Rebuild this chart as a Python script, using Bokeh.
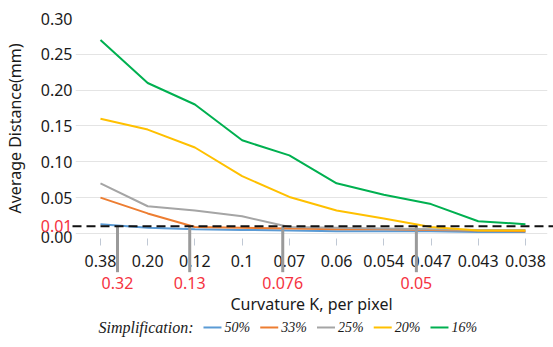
from bokeh.plotting import figure
from bokeh.models import FixedTicker, LinearAxis, Range1d
from bokeh.core.properties import value
from bokeh.embed import file_html
from bokeh.resources import INLINE

# ---- data ----
categories = ["0.38", "0.20", "0.12", "0.1", "0.07", "0.06", "0.054", "0.047", "0.043", "0.038"]
s50 = [0.013, 0.008, 0.006, 0.005, 0.004, 0.003, 0.003, 0.003, 0.002, 0.002]
s33 = [0.050, 0.028, 0.009, 0.008, 0.007, 0.006, 0.006, 0.005, 0.004, 0.003]
s25 = [0.070, 0.038, 0.032, 0.024, 0.009, 0.008, 0.007, 0.006, 0.005, 0.005]
s20 = [0.160, 0.145, 0.120, 0.080, 0.051, 0.032, 0.021, 0.009, 0.004, 0.004]
s16 = [0.270, 0.210, 0.180, 0.130, 0.109, 0.070, 0.054, 0.041, 0.017, 0.013]
series = [s50, s33, s25, s20, s16]
series_names = ["50%", "33%", "25%", "20%", "16%"]
colors = ["#5B9BD5", "#ED7D31", "#A5A5A5", "#FFC000", "#00B050"]
threshold = 0.01
threshold_label = "0.01"
crossing_labels = ["0.32", "0.13", "0.076", "0.05"]
crossing_pos = [0.36, 1.89, 3.86, 6.69]
ytick_values = [0.00, 0.05, 0.10, 0.15, 0.20, 0.25, 0.30]
ytick_labels = ["0.00", "0.05", "0.10", "0.15", "0.20", "0.25", "0.30"]
legend_title = "Simplification:"

RED = "#F5333F"
FONT = "Noto Sans"
TXT = "#1a1a1a"
xs = list(range(len(categories)))

X0, X1 = -0.529, 9.467
Y0, Y1 = -0.007, 0.30
W, H = 553, 347
ML, MR, MT, MB = 75, 6, 18, 109
px_x = (W - ML - MR) / (X1 - X0)      # pixels per x unit
px_y = (H - MT - MB) / (Y1 - Y0)      # pixels per y unit

p = figure(width=W, height=H, x_range=Range1d(X0, X1), y_range=Range1d(Y0, Y1),
           output_backend="svg", toolbar_location=None,
           min_border_left=0, min_border_right=MR, min_border_top=MT, min_border_bottom=MB)
p.outline_line_color = None
p.background_fill_color = "white"
p.border_fill_color = "white"

p.xgrid.visible = False
p.ygrid.ticker = FixedTicker(ticks=ytick_values)
p.ygrid.grid_line_color = "#E4E4E4"
p.ygrid.grid_line_width = 1

# y axis (0.00 label nudged down slightly to leave room for the red 0.01)
yax = p.yaxis[0]
ypos = [v - 0.0055 if v == 0 else v for v in ytick_values]
yax.ticker = FixedTicker(ticks=ypos)
yax.major_label_overrides = {pv: lab for pv, lab in zip(ypos, ytick_labels)}
yax.axis_line_color = None
yax.major_tick_line_color = None
yax.minor_tick_line_color = None
yax.major_tick_out = 0
yax.major_tick_in = 0
yax.major_label_standoff = 3
yax.major_label_text_font = FONT
yax.major_label_text_font_size = "16px"
yax.major_label_text_color = TXT
yax.axis_label = "Average Distance(mm)"
yax.axis_label_text_font = FONT
yax.axis_label_text_font_size = "16px"
yax.axis_label_text_font_style = "normal"
yax.axis_label_text_color = TXT
yax.axis_label_standoff = 12

# category x axis
xax = p.xaxis[0]
xax.ticker = FixedTicker(ticks=xs)
xax.major_label_overrides = {i: c for i, c in zip(xs, categories)}
xax.axis_line_color = None
xax.major_tick_line_color = "#C0C8D4"
xax.minor_tick_line_color = None
xax.major_tick_in = 0
xax.major_tick_out = 7
xax.major_label_standoff = 9
xax.major_label_text_font = FONT
xax.major_label_text_font_size = "16px"
xax.major_label_text_color = TXT

# second x axis with red crossing values + title
xax2 = LinearAxis(ticker=FixedTicker(ticks=crossing_pos),
                  major_label_overrides={pv: lab for pv, lab in zip(crossing_pos, crossing_labels)})
xax2.axis_line_color = None
xax2.major_tick_line_color = None
xax2.minor_tick_line_color = None
xax2.major_tick_in = 0
xax2.major_tick_out = 0
xax2.major_label_standoff = 7
xax2.major_label_text_font = FONT
xax2.major_label_text_font_size = "16px"
xax2.major_label_text_color = RED
xax2.axis_label = "Curvature K, per pixel"
xax2.axis_label_text_font = FONT
xax2.axis_label_text_font_size = "16px"
xax2.axis_label_text_font_style = "normal"
xax2.axis_label_text_color = TXT
xax2.axis_label_standoff = 1
p.add_layout(xax2, "below")

# gray vertical markers at the crossings
p.segment(x0=crossing_pos, y0=[threshold] * len(crossing_pos), x1=crossing_pos,
          y1=[-0.054] * len(crossing_pos), line_color="#9A9A9A", line_width=3, level="overlay")

for s, col in zip(series, colors):
    p.line(xs, s, line_color=col, line_width=2)

# dashed threshold line
p.segment(x0=[X0 - 3 / px_x], y0=[threshold], x1=[X1 + 8 / px_x], y1=[threshold],
          line_color="#111111", line_width=2, line_dash="9 5", level="overlay")

# red threshold label next to the y axis
p.text(x=[X0 - 3 / px_x], y=[threshold], text=[threshold_label], text_align="right",
       text_baseline="middle", text_color=RED, text_font=value(FONT), text_font_size="16px",
       level="overlay")

# legend (drawn below the axis title)
leg_y = -94 / px_y            # 94 px below the zero line
p.text(x=[-2 / px_x], y=[leg_y], text=[legend_title], text_align="left",
       text_baseline="middle", text_color=TXT, text_font=value("Liberation Serif"),
       text_font_style="italic", text_font_size="16px", level="overlay")
start = 103 / px_x
step = 56.75 / px_x
glyph = 18 / px_x
gap = 3 / px_x
n = len(series_names)
gx0 = [start + i * step for i in range(n)]
p.segment(x0=gx0, y0=[leg_y] * n, x1=[g + glyph for g in gx0], y1=[leg_y] * n,
          line_color=colors, line_width=2, level="overlay")
p.text(x=[g + glyph + gap for g in gx0], y=[leg_y] * n, text=series_names, text_align="left",
       text_baseline="middle", text_color=TXT, text_font=value("Liberation Serif"),
       text_font_style="italic", text_font_size="14px", level="overlay")

open("out.html", "w").write(file_html(p, INLINE))
